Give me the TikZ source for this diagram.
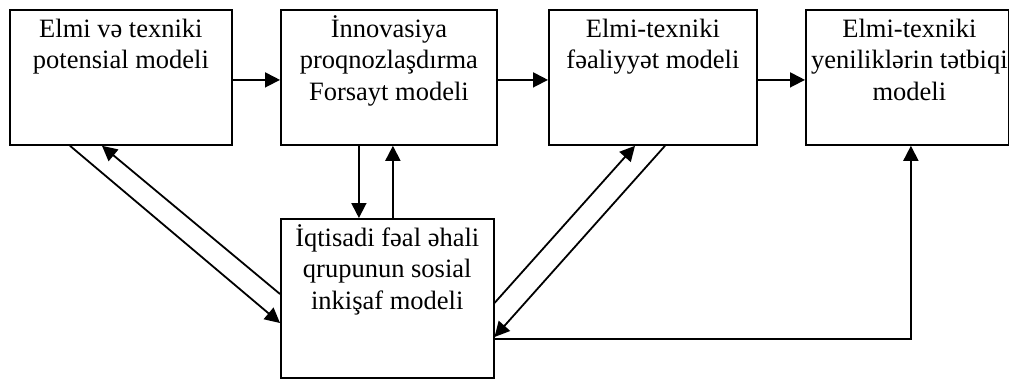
\documentclass[tikz,border=0pt]{standalone}
\usepackage{fontspec}
\setmainfont{Liberation Serif}
\usetikzlibrary{arrows.meta}
\begin{document}
\begin{tikzpicture}[x=1pt,y=-1pt,
  box/.style={draw, line width=1.8pt, inner sep=0pt, anchor=north west},
  lbl/.style={anchor=north, inner sep=0pt, align=center, font=\fontsize{26.5}{31.5}\selectfont, yshift=-6pt},
  conn/.style={line width=1.8pt, -{Triangle[length=15pt,width=15pt]}}]
\useasboundingbox (0,0) rectangle (1009,378);
\node[box, minimum width=222pt, minimum height=135pt] (b1) at (9,9) {};
\node[box, minimum width=216pt, minimum height=135pt] (b2) at (280,9) {};
\node[box, minimum width=208pt, minimum height=135pt] (b3) at (548,9) {};
\node[box, minimum width=203pt, minimum height=135pt] (b4) at (805,9) {};
\node[box, line width=1.5pt, minimum width=213pt, minimum height=159pt] (b5) at (280,218) {};
\node[lbl] (t1) at (b1.north) {\strut Elmi və texniki\\potensial modeli};
\node[lbl] (t2) at (b2.north) {\strut İnnovasiya\\proqnozlaşdırma\\Forsayt modeli};
\node[lbl] (t3) at (b3.north) {\strut Elmi-texniki\\fəaliyyət modeli};
\node[lbl] (t4) at ([xshift=2pt]b4.north) {\strut Elmi-texniki\\yeniliklərin tətbiqi\\modeli};
\node[lbl] (t5) at (b5.north) {\strut İqtisadi fəal əhali\\qrupunun sosial\\inkişaf modeli};
% horizontal arrows
\draw[conn] ([yshift=-2.5pt]b1.east) -- ([yshift=-2.5pt]b2.west);
\draw[conn] ([yshift=-2.5pt]b2.east) -- ([yshift=-2.5pt]b3.west);
\draw[conn] ([yshift=-2.5pt]b3.east) -- ([yshift=-2.5pt]b4.west);
% b2 <-> b5
\draw[conn] ([xshift=-30pt]b2.south) -- ([xshift=-30pt]b2.south |- b5.north);
\draw[conn] ([xshift=4pt]b2.south |- b5.north) -- ([xshift=4pt]b2.south);
% b1 <-> b5
\draw[conn] ([xshift=61pt]b1.south west) -- ([yshift=-105pt]b5.north west);
\draw[conn] ([yshift=-76pt]b5.north west) -- ([xshift=93pt]b1.south west);
% b3 <-> b5
\draw[conn] ([yshift=-85pt]b5.north east) -- ([xshift=87pt]b3.south west);
\draw[conn] ([xshift=117pt]b3.south west) -- ([yshift=-119pt]b5.north east);
% b5 -> b4
\draw[conn] ([yshift=-121pt]b5.north east) -| ([xshift=3.5pt]b4.south);
\end{tikzpicture}
\end{document}
